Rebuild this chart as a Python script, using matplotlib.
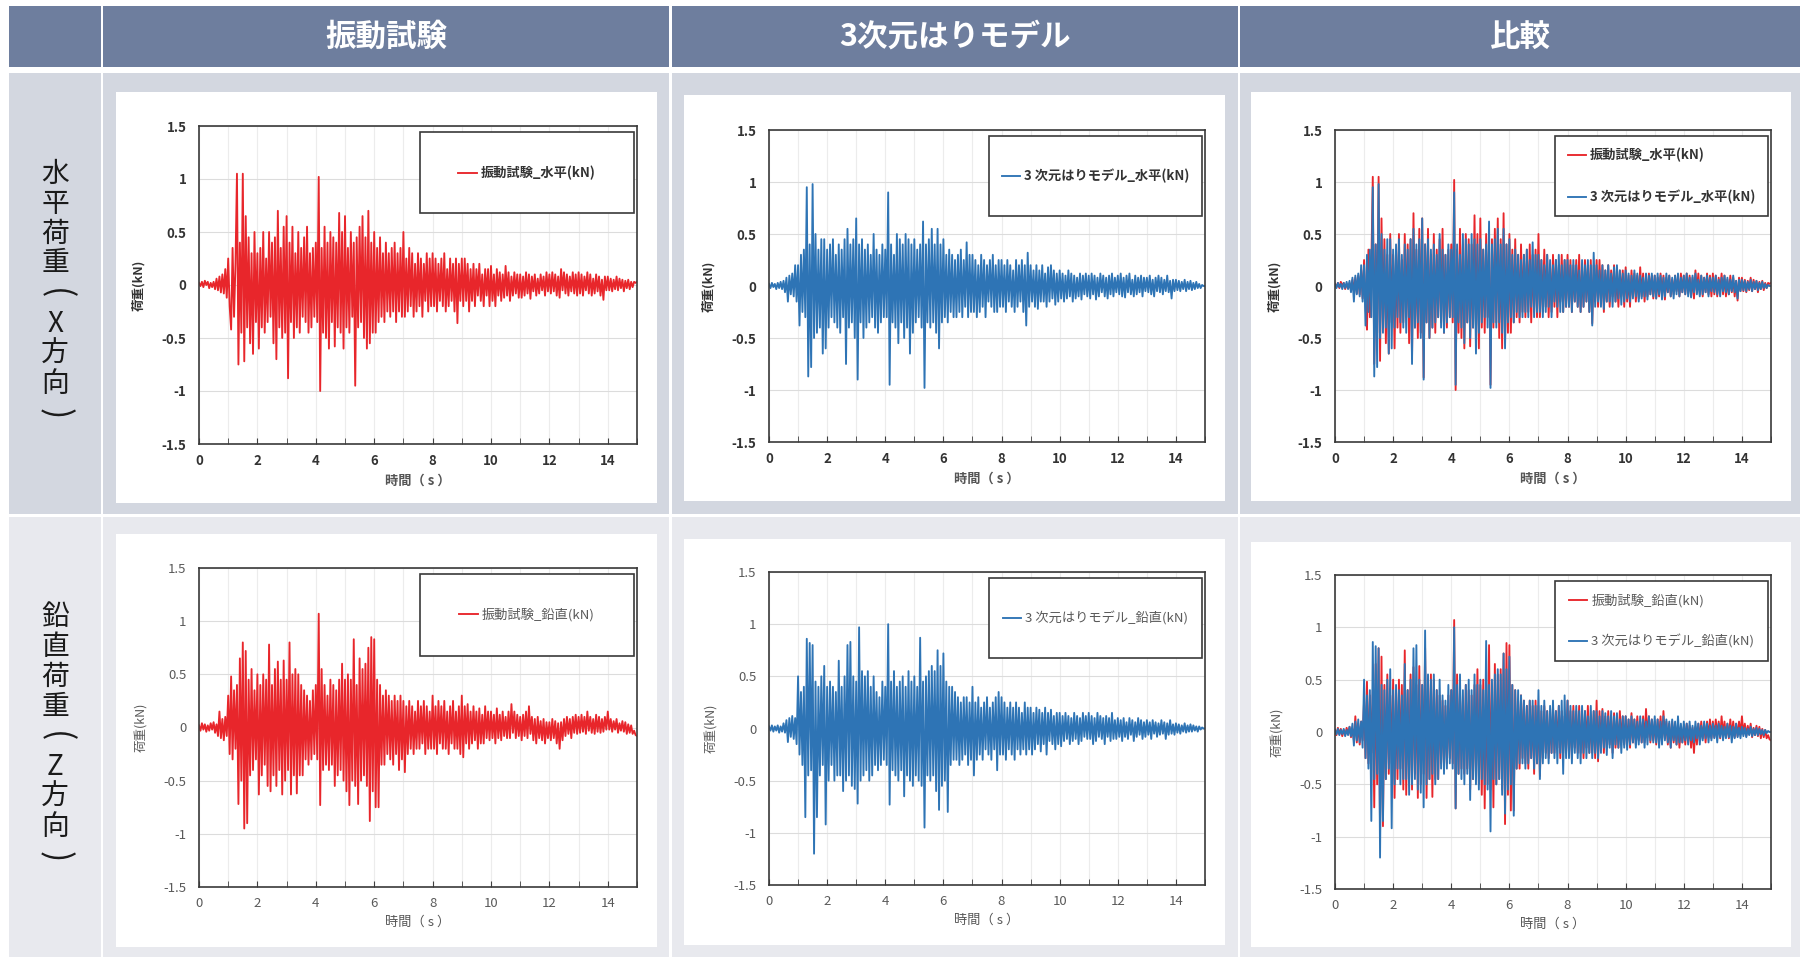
import matplotlib.pyplot as plt
import numpy as np
from matplotlib.patches import Rectangle

plt.rcParams['font.family'] = ['Noto Sans CJK JP', 'DejaVu Sans']

# sampled load histories (kN), one row = one second, dt = 0.05 s
dt = 0.05

test_x = [
    0.02, -0.01, 0.03, -0.02, 0.04, 0.00, 0.03, -0.03, 0.02, -0.02, 0.03, -0.04, 0.06, -0.05, 0.08, -0.07, 0.10, -0.08, 0.15, -0.12,
    0.25, -0.20, -0.42, 0.35, -0.30, 0.20, 1.05, -0.75, 0.40, -0.45, 1.05, -0.72, 0.65, -0.40, 0.45, -0.55, 0.30, -0.65, 0.50, -0.35,
    0.30, -0.60, 0.35, -0.40, 0.50, -0.45, 0.25, -0.35, 0.50, -0.30, 0.40, -0.55, 0.45, -0.70, 0.70, -0.40, 0.35, -0.50, 0.55, -0.45,
    0.65, -0.88, 0.40, -0.35, 0.55, -0.50, 0.30, -0.40, 0.50, -0.45, 0.35, -0.30, 0.45, -0.35, 0.55, -0.45, 0.30, -0.40, 0.35, -0.30,
    0.40, -0.35, 1.02, -1.00, 0.35, -0.45, 0.55, -0.50, 0.40, -0.60, 0.50, -0.35, 0.45, -0.58, 0.40, -0.40, 0.68, -0.45, 0.50, -0.60,
    0.65, -0.40, 0.35, -0.45, 0.50, -0.30, 0.40, -0.95, 0.45, -0.40, 0.55, -0.35, 0.65, -0.50, 0.45, -0.60, 0.70, -0.55, 0.40, -0.45,
    0.50, -0.45, 0.35, -0.35, 0.45, -0.30, 0.30, -0.35, 0.40, -0.25, 0.30, -0.30, 0.35, -0.25, 0.40, -0.35, 0.30, -0.25, 0.35, -0.30,
    0.50, -0.30, 0.25, -0.25, 0.35, -0.20, 0.30, -0.30, 0.20, -0.25, 0.30, -0.20, 0.25, -0.30, 0.20, -0.15, 0.30, -0.25, 0.25, -0.20,
    0.30, -0.20, 0.25, -0.25, 0.20, -0.15, 0.25, -0.20, 0.30, -0.25, 0.15, -0.20, 0.25, -0.15, 0.20, -0.25, 0.25, -0.36, 0.20, -0.15,
    0.25, -0.20, 0.25, -0.15, 0.20, -0.25, 0.15, -0.15, 0.20, -0.20, 0.15, -0.10, 0.20, -0.15, 0.10, -0.20, 0.15, -0.10, 0.15, -0.20,
    0.18, -0.15, 0.10, -0.20, 0.15, -0.10, 0.12, -0.15, 0.10, -0.12, 0.18, -0.10, 0.12, -0.15, 0.08, -0.10, 0.12, -0.08, 0.10, -0.12,
    0.10, -0.12, 0.08, -0.10, 0.12, -0.08, 0.10, -0.13, 0.08, -0.06, 0.10, -0.10, 0.06, -0.08, 0.10, -0.05, 0.08, -0.10, 0.12, -0.06,
    0.10, -0.08, 0.12, -0.06, 0.10, -0.10, 0.08, -0.12, 0.15, -0.05, 0.12, -0.08, 0.10, -0.10, 0.08, -0.06, 0.12, -0.08, 0.10, -0.10,
    0.12, -0.08, 0.10, -0.10, 0.08, -0.05, 0.12, -0.08, 0.10, -0.10, 0.06, -0.08, 0.10, -0.06, 0.08, -0.10, 0.05, -0.14, 0.08, -0.05,
    0.08, -0.05, 0.06, -0.06, 0.05, -0.04, 0.08, -0.05, 0.06, -0.03, 0.05, -0.06, 0.04, -0.03, 0.05, -0.04, 0.03, -0.02, 0.03, 0.02,
    0.03,
]

model_x = [
    0.02, -0.02, 0.03, -0.01, 0.02, -0.03, 0.03, -0.02, 0.04, -0.03, 0.05, -0.06, 0.08, -0.15, 0.10, -0.08, 0.12, -0.10, 0.20, -0.15,
    0.20, -0.38, 0.30, -0.25, 0.35, -0.30, 0.95, -0.87, 0.40, -0.78, 0.98, -0.50, 0.50, -0.45, 0.35, -0.40, 0.45, -0.65, 0.45, -0.60,
    0.35, -0.40, 0.40, -0.30, 0.45, -0.35, 0.30, -0.40, 0.40, -0.45, 0.35, -0.30, 0.45, -0.75, 0.55, -0.40, 0.40, -0.35, 0.45, -0.50,
    0.65, -0.90, 0.40, -0.35, 0.45, -0.50, 0.35, -0.40, 0.40, -0.35, 0.30, -0.30, 0.50, -0.40, 0.35, -0.45, 0.30, -0.35, 0.40, -0.30,
    0.35, -0.30, 0.90, -0.95, 0.40, -0.35, 0.30, -0.40, 0.50, -0.55, 0.45, -0.35, 0.40, -0.50, 0.50, -0.40, 0.45, -0.65, 0.40, -0.45,
    0.45, -0.35, 0.35, -0.30, 0.40, -0.40, 0.62, -0.98, 0.40, -0.35, 0.45, -0.40, 0.55, -0.35, 0.40, -0.45, 0.55, -0.60, 0.40, -0.35,
    0.45, -0.30, 0.30, -0.35, 0.35, -0.25, 0.30, -0.30, 0.25, -0.30, 0.30, -0.25, 0.35, -0.30, 0.25, -0.20, 0.42, -0.30, 0.30, -0.25,
    0.30, -0.25, 0.25, -0.30, 0.20, -0.25, 0.30, -0.20, 0.25, -0.30, 0.20, -0.15, 0.25, -0.20, 0.30, -0.25, 0.20, -0.25, 0.25, -0.20,
    0.25, -0.20, 0.20, -0.25, 0.25, -0.15, 0.20, -0.20, 0.15, -0.25, 0.25, -0.20, 0.20, -0.15, 0.25, -0.25, 0.20, -0.38, 0.32, -0.20,
    0.20, -0.15, 0.15, -0.20, 0.20, -0.22, 0.15, -0.15, 0.20, -0.15, 0.12, -0.20, 0.18, -0.15, 0.20, -0.12, 0.15, -0.18, 0.12, -0.15,
    0.15, -0.12, 0.12, -0.15, 0.10, -0.12, 0.15, -0.10, 0.12, -0.15, 0.10, -0.12, 0.08, -0.10, 0.12, -0.13, 0.10, -0.08, 0.12, -0.10,
    0.10, -0.12, 0.12, -0.08, 0.10, -0.13, 0.08, -0.10, 0.12, -0.06, 0.10, -0.10, 0.08, -0.12, 0.10, -0.08, 0.12, -0.10, 0.08, -0.06,
    0.10, -0.08, 0.12, -0.10, 0.08, -0.11, 0.10, -0.06, 0.12, -0.08, 0.06, -0.10, 0.10, -0.08, 0.08, -0.06, 0.10, -0.10, 0.08, -0.05,
    0.08, -0.06, 0.10, -0.08, 0.06, -0.10, 0.08, -0.05, 0.10, -0.06, 0.08, -0.08, 0.06, -0.05, 0.10, -0.06, 0.05, -0.12, 0.06, -0.05,
    0.06, -0.04, 0.05, -0.05, 0.04, -0.03, 0.06, -0.05, 0.04, -0.03, 0.05, -0.04, 0.03, -0.03, 0.04, -0.02, 0.02, -0.02, 0.01, 0.00,
    0.00,
]

test_z = [
    0.02, -0.03, 0.04, -0.02, 0.03, -0.04, 0.02, -0.03, 0.04, -0.02, 0.05, -0.05, 0.03, -0.08, 0.15, -0.10, 0.08, -0.12, 0.10, -0.08,
    0.30, -0.25, 0.48, -0.30, 0.35, -0.20, 0.40, -0.72, 0.65, -0.50, 0.80, -0.95, 0.72, -0.90, 0.45, -0.45, 0.55, -0.40, 0.35, -0.30,
    0.50, -0.63, 0.40, -0.45, 0.50, -0.35, 0.45, -0.55, 0.78, -0.60, 0.40, -0.45, 0.55, -0.55, 0.62, -0.40, 0.45, -0.63, 0.63, -0.50,
    0.45, -0.40, 0.80, -0.63, 0.50, -0.45, 0.55, -0.62, 0.50, -0.45, 0.40, -0.45, 0.35, -0.30, 0.30, -0.35, 0.25, -0.30, 0.35, -0.25,
    0.40, -0.30, 1.07, -0.73, 0.55, -0.40, 0.40, -0.35, 0.30, -0.40, 0.45, -0.35, 0.40, -0.55, 0.35, -0.45, 0.45, -0.40, 0.60, -0.50,
    0.45, -0.60, 0.50, -0.73, 0.45, -0.50, 0.83, -0.55, 0.40, -0.72, 0.65, -0.50, 0.55, -0.45, 0.60, -0.55, 0.75, -0.88, 0.85, -0.60,
    0.83, -0.75, 0.45, -0.75, 0.40, -0.35, 0.30, -0.35, 0.35, -0.25, 0.30, -0.30, 0.25, -0.35, 0.30, -0.25, 0.25, -0.40, 0.30, -0.30,
    0.25, -0.42, 0.20, -0.25, 0.25, -0.20, 0.20, -0.25, 0.15, -0.20, 0.25, -0.20, 0.20, -0.15, 0.25, -0.25, 0.20, -0.20, 0.15, -0.20,
    0.30, -0.20, 0.20, -0.25, 0.25, -0.15, 0.20, -0.20, 0.25, -0.20, 0.15, -0.25, 0.20, -0.15, 0.25, -0.20, 0.15, -0.20, 0.20, -0.25,
    0.30, -0.28, 0.20, -0.15, 0.22, -0.20, 0.15, -0.15, 0.20, -0.12, 0.15, -0.20, 0.18, -0.15, 0.12, -0.15, 0.20, -0.10, 0.15, -0.12,
    0.15, -0.10, 0.12, -0.15, 0.18, -0.10, 0.12, -0.12, 0.15, -0.08, 0.10, -0.10, 0.15, -0.10, 0.22, -0.05, 0.15, -0.10, 0.12, -0.08,
    0.10, -0.12, 0.12, -0.08, 0.15, -0.10, 0.20, -0.06, 0.10, -0.12, 0.08, -0.15, 0.10, -0.10, 0.06, -0.12, 0.08, -0.15, 0.05, -0.10,
    0.05, -0.12, 0.08, -0.10, 0.06, -0.15, 0.04, -0.20, 0.05, -0.12, 0.08, -0.08, 0.10, -0.06, 0.08, -0.10, 0.10, -0.05, 0.12, -0.06,
    0.10, -0.05, 0.12, -0.04, 0.10, -0.06, 0.15, -0.03, 0.10, -0.05, 0.08, -0.06, 0.12, -0.04, 0.10, -0.05, 0.08, -0.04, 0.10, -0.02,
    0.15, -0.02, 0.08, -0.04, 0.06, -0.02, 0.08, -0.05, 0.04, -0.03, 0.06, -0.04, 0.05, -0.06, 0.03, -0.05, 0.02, -0.06, -0.03, -0.07,
    -0.08,
]

model_z = [
    0.02, -0.02, 0.03, -0.03, 0.02, -0.02, 0.03, -0.04, 0.02, -0.03, 0.05, -0.04, 0.08, -0.13, 0.10, -0.08, 0.12, -0.10, 0.10, -0.15,
    0.50, -0.25, 0.35, -0.35, 0.40, -0.85, 0.86, -0.45, 0.82, -0.40, 0.80, -1.20, 0.45, -0.85, 0.40, -0.45, 0.50, -0.35, 0.60, -0.92,
    0.40, -0.50, 0.45, -0.35, 0.40, -0.50, 0.35, -0.45, 0.65, -0.45, 0.40, -0.60, 0.50, -0.50, 0.80, -0.45, 0.83, -0.55, 0.50, -0.58,
    0.45, -0.72, 0.97, -0.50, 0.55, -0.45, 0.50, -0.40, 0.55, -0.50, 0.40, -0.45, 0.50, -0.35, 0.35, -0.40, 0.30, -0.35, 0.45, -0.30,
    0.40, -0.35, 1.00, -0.73, 0.45, -0.40, 0.55, -0.45, 0.40, -0.50, 0.45, -0.40, 0.50, -0.65, 0.40, -0.45, 0.55, -0.50, 0.45, -0.55,
    0.50, -0.45, 0.40, -0.50, 0.87, -0.55, 0.45, -0.95, 0.50, -0.45, 0.55, -0.50, 0.60, -0.45, 0.55, -0.60, 0.75, -0.78, 0.60, -0.55,
    0.72, -0.50, 0.45, -0.80, 0.40, -0.35, 0.40, -0.30, 0.35, -0.30, 0.30, -0.35, 0.25, -0.30, 0.30, -0.25, 0.30, -0.35, 0.25, -0.30,
    0.40, -0.45, 0.25, -0.30, 0.30, -0.25, 0.20, -0.30, 0.25, -0.20, 0.30, -0.25, 0.20, -0.30, 0.25, -0.20, 0.30, -0.40, 0.35, -0.25,
    0.30, -0.25, 0.25, -0.30, 0.20, -0.20, 0.25, -0.25, 0.20, -0.30, 0.25, -0.20, 0.20, -0.25, 0.15, -0.20, 0.25, -0.25, 0.20, -0.20,
    0.20, -0.25, 0.15, -0.20, 0.20, -0.15, 0.18, -0.22, 0.15, -0.15, 0.20, -0.25, 0.15, -0.12, 0.18, -0.15, 0.12, -0.20, 0.15, -0.15,
    0.15, -0.17, 0.12, -0.12, 0.15, -0.10, 0.12, -0.15, 0.10, -0.12, 0.15, -0.10, 0.12, -0.15, 0.10, -0.12, 0.15, -0.08, 0.12, -0.10,
    0.15, -0.10, 0.12, -0.15, 0.10, -0.12, 0.15, -0.08, 0.12, -0.10, 0.10, -0.15, 0.12, -0.08, 0.10, -0.12, 0.15, -0.10, 0.08, -0.10,
    0.10, -0.08, 0.08, -0.12, 0.10, -0.08, 0.06, -0.10, 0.10, -0.06, 0.08, -0.12, 0.06, -0.08, 0.10, -0.06, 0.08, -0.10, 0.06, -0.08,
    0.08, -0.06, 0.06, -0.10, 0.08, -0.05, 0.06, -0.08, 0.05, -0.06, 0.08, -0.05, 0.06, -0.10, 0.05, -0.06, 0.08, -0.05, 0.04, -0.06,
    0.05, -0.04, 0.04, -0.05, 0.03, -0.03, 0.05, -0.04, 0.03, -0.03, 0.04, -0.03, 0.03, -0.02, 0.02, -0.03, 0.02, -0.01, 0.01, 0.00,
    0.00,
]

time = np.arange(len(test_x)) * dt

col_titles = ['振動試験', '3次元はりモデル', '比較']
row_titles = ['水平荷重(X方向)', '鉛直荷重(Z方向)']
ytick_vals = [-1.5, -1, -0.5, 0, 0.5, 1, 1.5]
ytick_labels = ['-1.5', '-1', '-0.5', '0', '0.5', '1', '1.5']

RED = '#e8262b'
BLUE = '#2e74b5'

W, H = 1800, 957
fig = plt.figure(figsize=(18, 9.57), dpi=100)
fig.patch.set_facecolor('white')


def box(x0, y0, x1, y1, color, z=-10):
    fig.add_artist(Rectangle((x0 / W, 1 - y1 / H), (x1 - x0) / W, (y1 - y0) / H,
                             transform=fig.transFigure, facecolor=color,
                             edgecolor='none', zorder=z))


cols = [(9, 101), (103, 669), (672, 1238), (1240, 1800)]
rows = [(73, 514, '#d3d7e0'), (517, 957, '#e8e9ee')]

# header row
for (x0, x1) in cols:
    box(x0, 6, x1, 67, '#6e7e9e')
for (x0, x1), title in zip(cols[1:], col_titles):
    fig.text((x0 + x1) / 2 / W, 1 - 37 / H, title, color='white', fontsize=22,
             fontweight='bold', ha='center', va='center')

# body rows
for (y0, y1, c) in rows:
    for (x0, x1) in cols:
        box(x0, y0, x1, y1, c)

# row titles, written top to bottom one character at a time
step = 30
for (y0, y1, c), title in zip(rows, row_titles):
    yc = (y0 + y1) / 2
    n = len(title)
    for i, ch in enumerate(title):
        yy = yc + (i - (n - 1) / 2) * step
        is_paren = ch in '()'
        fig.text(55 / W, 1 - yy / H, ch, fontsize=24 if is_paren else 20,
                 color='#1a1a1a', ha='center', va='center',
                 rotation=-90 if is_paren else 0, rotation_mode='anchor')

# white chart panels
panels = [
    [(116, 92, 657, 503), (684, 95, 1225, 501), (1251, 92, 1791, 501)],
    [(116, 534, 657, 947), (684, 539, 1225, 945), (1251, 542, 1791, 947)],
]
for prow in panels:
    for p in prow:
        box(*p, 'white', z=-9)

# axes rectangles (left, top, right, bottom) in pixels
axes_px = [
    [(199, 126, 637, 444), (769, 130, 1205, 442), (1335, 130, 1771, 442)],
    [(199, 568, 637, 887), (769, 572, 1205, 885), (1335, 575, 1771, 889)],
]

row_series = [
    [[(test_x, RED, '振動試験_水平(kN)')],
     [(model_x, BLUE, '3 次元はりモデル_水平(kN)')],
     [(test_x, RED, '振動試験_水平(kN)'), (model_x, BLUE, '3 次元はりモデル_水平(kN)')]],
    [[(test_z, RED, '振動試験_鉛直(kN)')],
     [(model_z, BLUE, '3 次元はりモデル_鉛直(kN)')],
     [(test_z, RED, '振動試験_鉛直(kN)'), (model_z, BLUE, '3 次元はりモデル_鉛直(kN)')]],
]

for r in range(2):
    bold = 'bold' if r == 0 else 'normal'
    tcol = '#333333' if r == 0 else '#5a5a5a'
    for c in range(3):
        l, t, rr, b = axes_px[r][c]
        ax = fig.add_axes([l / W, 1 - b / H, (rr - l) / W, (b - t) / H])
        for y, color, label in row_series[r][c]:
            ax.plot(time, y, color=color, lw=1.35, label=label)
        ax.set_xlim(0, 15)
        ax.set_ylim(-1.5, 1.5)
        ax.set_xticks(np.arange(0, 15, 2))
        ax.set_xticks(np.arange(0, 16, 1), minor=True)
        ax.set_yticks(ytick_vals)
        ax.set_yticklabels(ytick_labels)
        ax.xaxis.grid(True, which='both', color='#ececec', lw=0.8)
        ax.yaxis.grid(True, which='major', color='#dcdcdc', lw=0.8)
        ax.set_axisbelow(True)
        ax.tick_params(axis='x', which='both', direction='in', length=4,
                       color='#404040', pad=7)
        ax.tick_params(axis='y', length=0, pad=9)
        for lab in ax.get_xticklabels() + ax.get_yticklabels():
            lab.set_fontsize(9.5)
            lab.set_fontweight(bold)
            lab.set_color(tcol)
        for sp in ax.spines.values():
            sp.set_color('#3a3a3a')
            sp.set_linewidth(1.2)
        ax.set_xlabel('時間（ s ）', fontsize=9.5, color='#555555', fontweight=bold, labelpad=4)
        ax.set_ylabel('荷重(kN)', fontsize=9, color=tcol, fontweight=bold, labelpad=12)

        # legend box
        lx, ly, lw_, lh = 0.505, 0.725, 0.488, 0.255
        ax.add_patch(Rectangle((lx, ly), lw_, lh, transform=ax.transAxes,
                               facecolor='white', edgecolor='#3a3a3a', lw=1.2, zorder=5))
        leg = ax.legend(loc='center', bbox_to_anchor=(lx, ly, lw_, lh), frameon=False,
                        handlelength=1.4, handletextpad=0.3, labelspacing=2.1,
                        prop={'size': 9.5, 'weight': bold})
        leg.set_zorder(6)
        for txt in leg.get_texts():
            txt.set_color(tcol)

fig.savefig('out.png', dpi=100)
